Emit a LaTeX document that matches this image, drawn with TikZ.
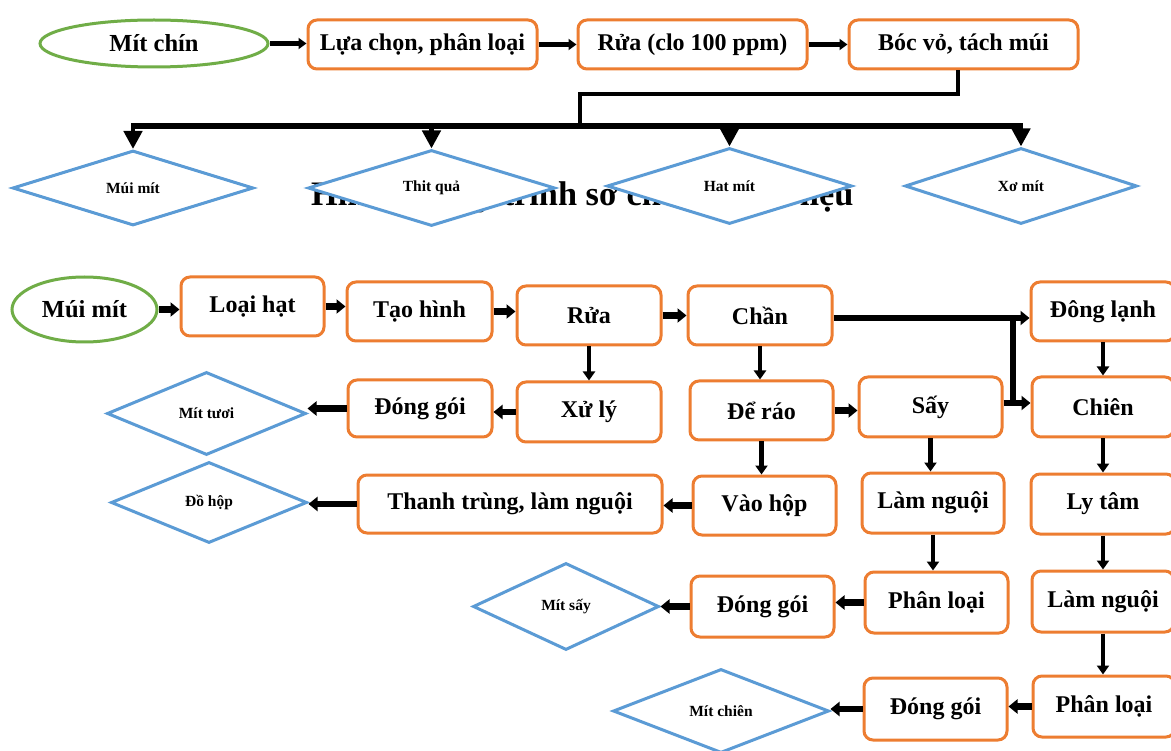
\documentclass[tikz,border=0pt]{standalone}
\usepackage{fontspec}
\setmainfont{Liberation Serif}
\usetikzlibrary{shapes.geometric,arrows.meta}
\definecolor{boxor}{HTML}{ED7D31}
\definecolor{dblue}{HTML}{5B9BD5}
\definecolor{egreen}{HTML}{70AD47}
\tikzset{
  sz/.style 2 args={minimum width=#1pt, minimum height=#2pt},
  box/.style={draw=boxor, line width=3pt, rounded corners=9pt, fill=white, inner sep=0pt, align=center, font=\bfseries\fontsize{24}{28}\selectfont},
  topbox/.style={box, font=\bfseries\fontsize{24}{28}\selectfont},
  oval/.style={ellipse, draw=egreen, line width=3pt, fill=white, inner sep=0pt, font=\bfseries\fontsize{24.5}{28}\selectfont},
  dia/.style={diamond, draw=dblue, line width=3pt, fill=white, inner sep=0pt, font=\bfseries\fontsize{15.5}{18}\selectfont},
  harr/.style={line width=6.5pt, -{Triangle[length=9pt,width=14pt]}},
  varr/.style={line width=4.5pt, -{Triangle[length=9pt,width=12pt]}},
  toparr/.style={line width=5.5pt, -{Triangle[length=8pt,width=11pt]}},
  bigarr/.style={line width=4.5pt, -{Triangle[length=18pt,width=18pt]}},
  trunk/.style={line width=6pt},
}
\begin{document}
\begin{tikzpicture}[x=1pt,y=-1pt]
\useasboundingbox (0,0) rectangle (1171,751);
\fill[white] (0,0) rectangle (1171,751);

% title partly hidden behind the diamonds
\node[anchor=base west, inner sep=0pt, font=\bfseries\fontsize{34.3}{40}\selectfont] (title) at (311,206) {Hình 1. Quy trình sơ chế nguyên liệu};

% ---------- top part ----------
\node[oval, sz={228}{47}] (mitchin) at (154,43.5) {Mít chín};
\node[topbox, sz={229}{49}] (luachon) at (422.5,44.5) {Lựa chọn, phân loại};
\node[topbox, sz={229}{49}] (rua1) at (692.5,44.5) {Rửa (clo 100 ppm)};
\node[topbox, sz={229}{49}] (bocvo) at (963.5,44.5) {Bóc vỏ, tách múi};

\draw[toparr] (mitchin.east) -- (luachon.west |- mitchin.east);
\draw[toparr] (luachon.east) -- (rua1.west);
\draw[toparr] (rua1.east) -- (bocvo.west);

\node[dia, sz={241}{75}] (d1) at (133,188) {Múi mít};
\node[dia, sz={247}{76}] (d2) at (431.5,188) {Thit quả};
\node[dia, sz={245}{76}] (d3) at (729.5,186) {Hat mít};
\node[dia, sz={232}{76}] (d4) at (1021,186) {Xơ mít};

\coordinate (t1) at (958,94);
\coordinate (t2) at (580,94);
\coordinate (t3) at (580,126);
\coordinate (bl) at (131,126);
\coordinate (br) at (1023,126);
\draw[line width=4pt] (bocvo.south -| t1) -- (t1) -- (t2) -- (t3);
\draw[trunk] (bl) -- (br);
\draw[bigarr] (d1.north |- bl) -- (d1.north);
\draw[bigarr] (d2.north |- bl) -- (d2.north);
\draw[bigarr] (d3.north |- bl) -- (d3.north);
\draw[bigarr] (d4.north |- bl) -- (d4.north);

% ---------- bottom part ----------
\node[oval, sz={145}{65}] (muimit) at (84.5,309.5) {Múi mít};
\node[box, sz={143}{59}] (loaihat) at (252.5,306.5) {Loại hạt};
\node[box, sz={145}{59}] (taohinh) at (419.5,311.5) {Tạo hình};
\node[box, sz={144}{59}] (rua2) at (589,315.5) {Rửa};
\node[box, sz={144}{59}] (chan) at (760,315.5) {Chần};
\node[box, sz={144}{59}] (donglanh) at (1103,311.5) {Đông lạnh};

\node[box, sz={144}{60}] (xuly) at (589,412) {Xử lý};
\node[box, sz={144}{57}] (donggoi1) at (420,408.5) {Đóng gói};
\node[dia, sz={199}{83}] (mittuoi) at (206.5,413.5) {Mít tươi};
\node[box, sz={143}{59}] (dearo) at (761.5,410.5) {Để ráo};
\node[box, sz={143}{60}] (say) at (930.5,407) {Sấy};
\node[box, sz={142}{60}] (chien) at (1103,407) {Chiên};

\node[box, sz={143}{59}] (vaohop) at (764.5,505.5) {Vào hộp};
\node[box, sz={304}{58}] (thanhtrung) at (510,504) {Thanh trùng, làm nguội};
\node[dia, sz={196}{81}] (dohop) at (209,502.5) {Đồ hộp};
\node[box, sz={142}{60}] (lamnguoi1) at (933,503) {Làm nguội};
\node[box, sz={144}{60}] (lytam) at (1103,504) {Ly tâm};

\node[box, sz={143}{61}] (phanloai1) at (936.5,602.5) {Phân loại};
\node[box, sz={142}{61}] (lamnguoi2) at (1103,601.5) {Làm nguội};
\node[box, sz={143}{61}] (donggoi2) at (762.5,606.5) {Đóng gói};
\node[dia, sz={186}{87}] (mitsay) at (566,606.5) {Mít sấy};

\node[box, sz={142}{61}] (phanloai2) at (1104,706.5) {Phân loại};
\node[box, sz={143}{62}] (donggoi3) at (935.5,709) {Đóng gói};
\node[dia, sz={216}{84}] (mitchien) at (721,711) {Mít chiên};

% main line
\draw[harr] (muimit.east) -- (loaihat.west |- muimit.east);
\draw[harr] (loaihat.east) -- (taohinh.west |- loaihat.east);
\draw[harr] (taohinh.east) -- (rua2.west |- taohinh.east);
\draw[harr] (rua2.east) -- (chan.west);

% fresh branch
\draw[varr] (rua2.south) -- (xuly.north);
\draw[harr] (xuly.west) -- (donggoi1.east |- xuly.west);
\draw[harr] (donggoi1.west) -- (mittuoi.east |- donggoi1.west);

% canned branch
\draw[varr] (chan.south) -- (chan.south |- dearo.north);
\draw[varr] (dearo.south) -- (dearo.south |- vaohop.north);
\draw[harr] (vaohop.west) -- (thanhtrung.east |- vaohop.west);
\draw[harr] (thanhtrung.west) -- (dohop.east |- thanhtrung.west);

% dried branch
\draw[harr] (dearo.east) -- (say.west |- dearo.east);
\draw[varr] (say.south) -- (say.south |- lamnguoi1.north);
\draw[varr] (lamnguoi1.south) -- (lamnguoi1.south |- phanloai1.north);
\draw[harr] (phanloai1.west) -- (donggoi2.east |- phanloai1.west);
\draw[harr] (donggoi2.west) -- (mitsay.east |- donggoi2.west);

% fried branch
\coordinate (j1) at (1013,318);
\coordinate (j2) at (1013,403);
\draw[harr] (chan.east |- j1) -- (donglanh.west |- j1);
\draw[trunk] (j1) -- (j2);
\draw[harr] (say.east |- j2) -- (chien.west |- j2);
\draw[varr] (donglanh.south) -- (donglanh.south |- chien.north);
\draw[varr] (chien.south) -- (chien.south |- lytam.north);
\draw[varr] (lytam.south) -- (lytam.south |- lamnguoi2.north);
\draw[varr] (lamnguoi2.south) -- (lamnguoi2.south |- phanloai2.north);
\draw[harr] (phanloai2.west) -- (donggoi3.east |- phanloai2.west);
\draw[harr] (donggoi3.west) -- (mitchien.east |- donggoi3.west);
\end{tikzpicture}
\end{document}
